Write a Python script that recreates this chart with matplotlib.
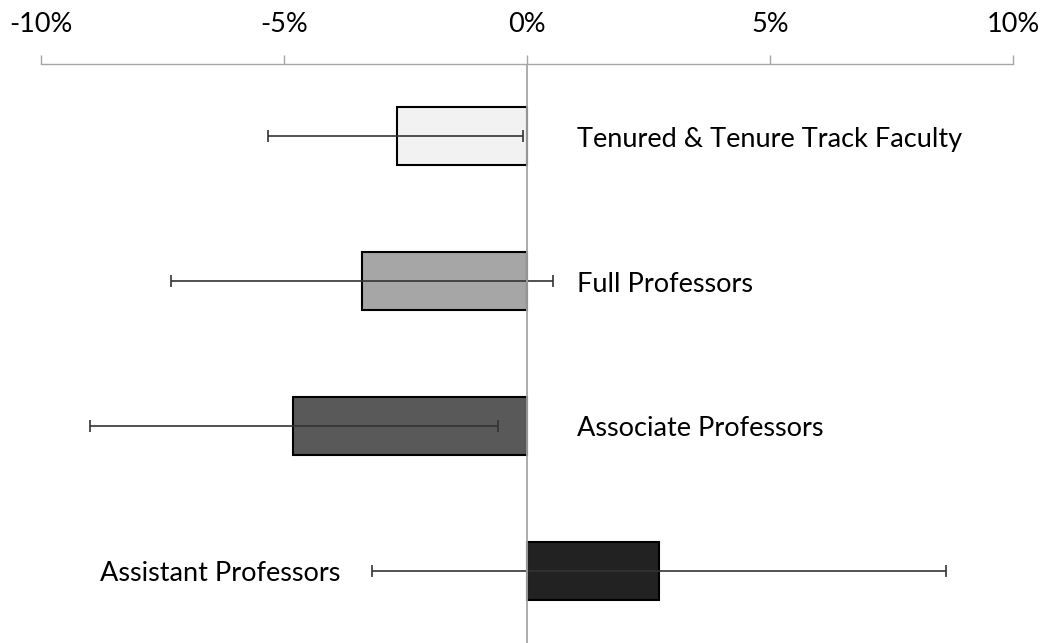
import matplotlib
matplotlib.use("Agg")
import matplotlib.pyplot as plt
import numpy as np
from matplotlib.ticker import FuncFormatter

categories = ["Tenured & Tenure Track Faculty", "Full Professors",
              "Associate Professors", "Assistant Professors"]
values = [-2.67, -3.40, -4.81, 2.72]
err_low = [-5.33, -7.33, -8.99, -3.18]
err_high = [-0.08, 0.54, -0.60, 8.62]
colors = ["#f2f2f2", "#a6a6a6", "#595959", "#222222"]

plt.rcParams['font.family'] = ['Lato', 'DejaVu Sans']

fig = plt.figure(figsize=(10.47, 6.43), dpi=100)
ax = fig.add_axes([41 / 1047, 0, (1013 - 41) / 1047, 1 - 64 / 643])

y = np.arange(len(categories))
values = np.array(values)
xerr = [values - np.array(err_low), np.array(err_high) - values]

ax.barh(y, values, height=0.4, color=colors, edgecolor="black", linewidth=1.5, zorder=2)
ax.errorbar(values, y, xerr=xerr, fmt="none", ecolor="#333333", elinewidth=1.2,
            capsize=4, capthick=1.2, zorder=3)
ax.axvline(0, color="#a6a6a6", linewidth=1.3, zorder=4)

for i, (cat, v) in enumerate(zip(categories, values)):
    if v < 0:
        ax.text(1.03, i + 0.02, cat, ha="left", va="center", fontsize=19.5, color="black")
    else:
        ax.text(-3.85, i + 0.02, cat, ha="right", va="center", fontsize=19.5, color="black")

ax.set_xlim(-10, 10)
ax.set_ylim(3.5, -0.5)
ax.set_xticks([-10, -5, 0, 5, 10])
ax.xaxis.set_major_formatter(FuncFormatter(lambda v, p: f"{v:.0f}%"))
ax.xaxis.tick_top()
ax.tick_params(axis="x", direction="out", length=6.5, width=1, color="#a6a6a6",
               labelsize=19.5, pad=13)
ax.set_yticks([])
for s in ["left", "right", "bottom"]:
    ax.spines[s].set_visible(False)
ax.spines["top"].set_color("#a6a6a6")
ax.spines["top"].set_linewidth(1)

fig.savefig("out.png", dpi=100)
